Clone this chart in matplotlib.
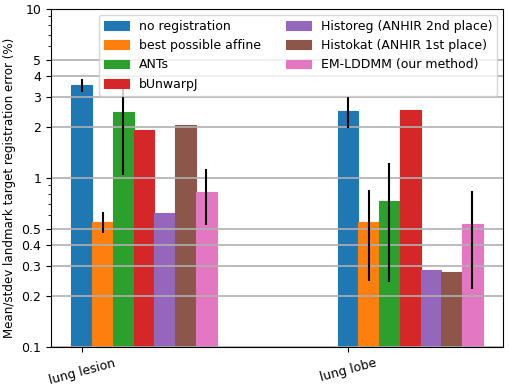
import numpy as np
import matplotlib
matplotlib.use("Agg")
import matplotlib.pyplot as plt

# datasets on the x axis
datasets = ["lung lesion", "lung lobe"]

methods = [
    "no registration", "best possible affine", "ANTs", "bUnwarpJ",
    "Historeg (ANHIR 2nd place)", "Histokat (ANHIR 1st place)",
    "EM-LDDMM (our method)",
]

# mean error (%) per method, [lung lesion, lung lobe]
no_reg = [3.54, 2.48]
affine = [0.55, 0.545]
ants = [2.44, 0.73]
bunwarpj = [1.92, 2.52]
historeg = [0.615, 0.285]
histokat = [2.05, 0.277]
emlddmm = [0.826, 0.53]

# stdev (None = no error bar)
no_reg_sd = [0.32, 0.51]
affine_sd = [0.08, 0.30]
ants_sd = [1.40, 0.49]
bunwarpj_sd = None
historeg_sd = None
histokat_sd = None
emlddmm_sd = [0.30, 0.31]

means = [no_reg, affine, ants, bunwarpj, historeg, histokat, emlddmm]
stds = [no_reg_sd, affine_sd, ants_sd, bunwarpj_sd, historeg_sd, histokat_sd, emlddmm_sd]
colors = plt.rcParams["axes.prop_cycle"].by_key()["color"][:7]

plt.rcParams["font.size"] = 9

fig = plt.figure(figsize=(5.09, 3.87), dpi=100)
ax = fig.add_axes([0.100, 0.104, 0.889, 0.8735])

x = np.arange(len(datasets))
w = 0.078
for i, (m, s, c, lab) in enumerate(zip(means, stds, colors, methods)):
    ax.bar(x + i * w, m, w, color=c, edgecolor=c, linewidth=0.8, label=lab)
    if s is not None:
        ax.errorbar(x + i * w, m, yerr=s, fmt="none", ecolor="black",
                    elinewidth=1.5, capsize=0, zorder=3)

ax.set_yscale("log")
ax.set_ylim(0.1, 10)
yt = [0.1, 0.2, 0.3, 0.4, 0.5, 1, 2, 3, 4, 5, 10]
ax.set_yticks(yt)
ax.set_yticklabels([f"{v:g}" for v in yt])
ax.grid(True, which="major", axis="y", color="#b0b0b0", linewidth=1.2)
ax.set_xticks(x)
ax.set_xticklabels(datasets, rotation=15)
ax.set_ylabel("Mean/stdev landmark target registration error (%)",
              y=0.47, fontsize=8.6)
ax.legend(ncol=2, loc="upper right", fontsize=9)

plt.savefig("out.png", dpi=100)
plt.close()
